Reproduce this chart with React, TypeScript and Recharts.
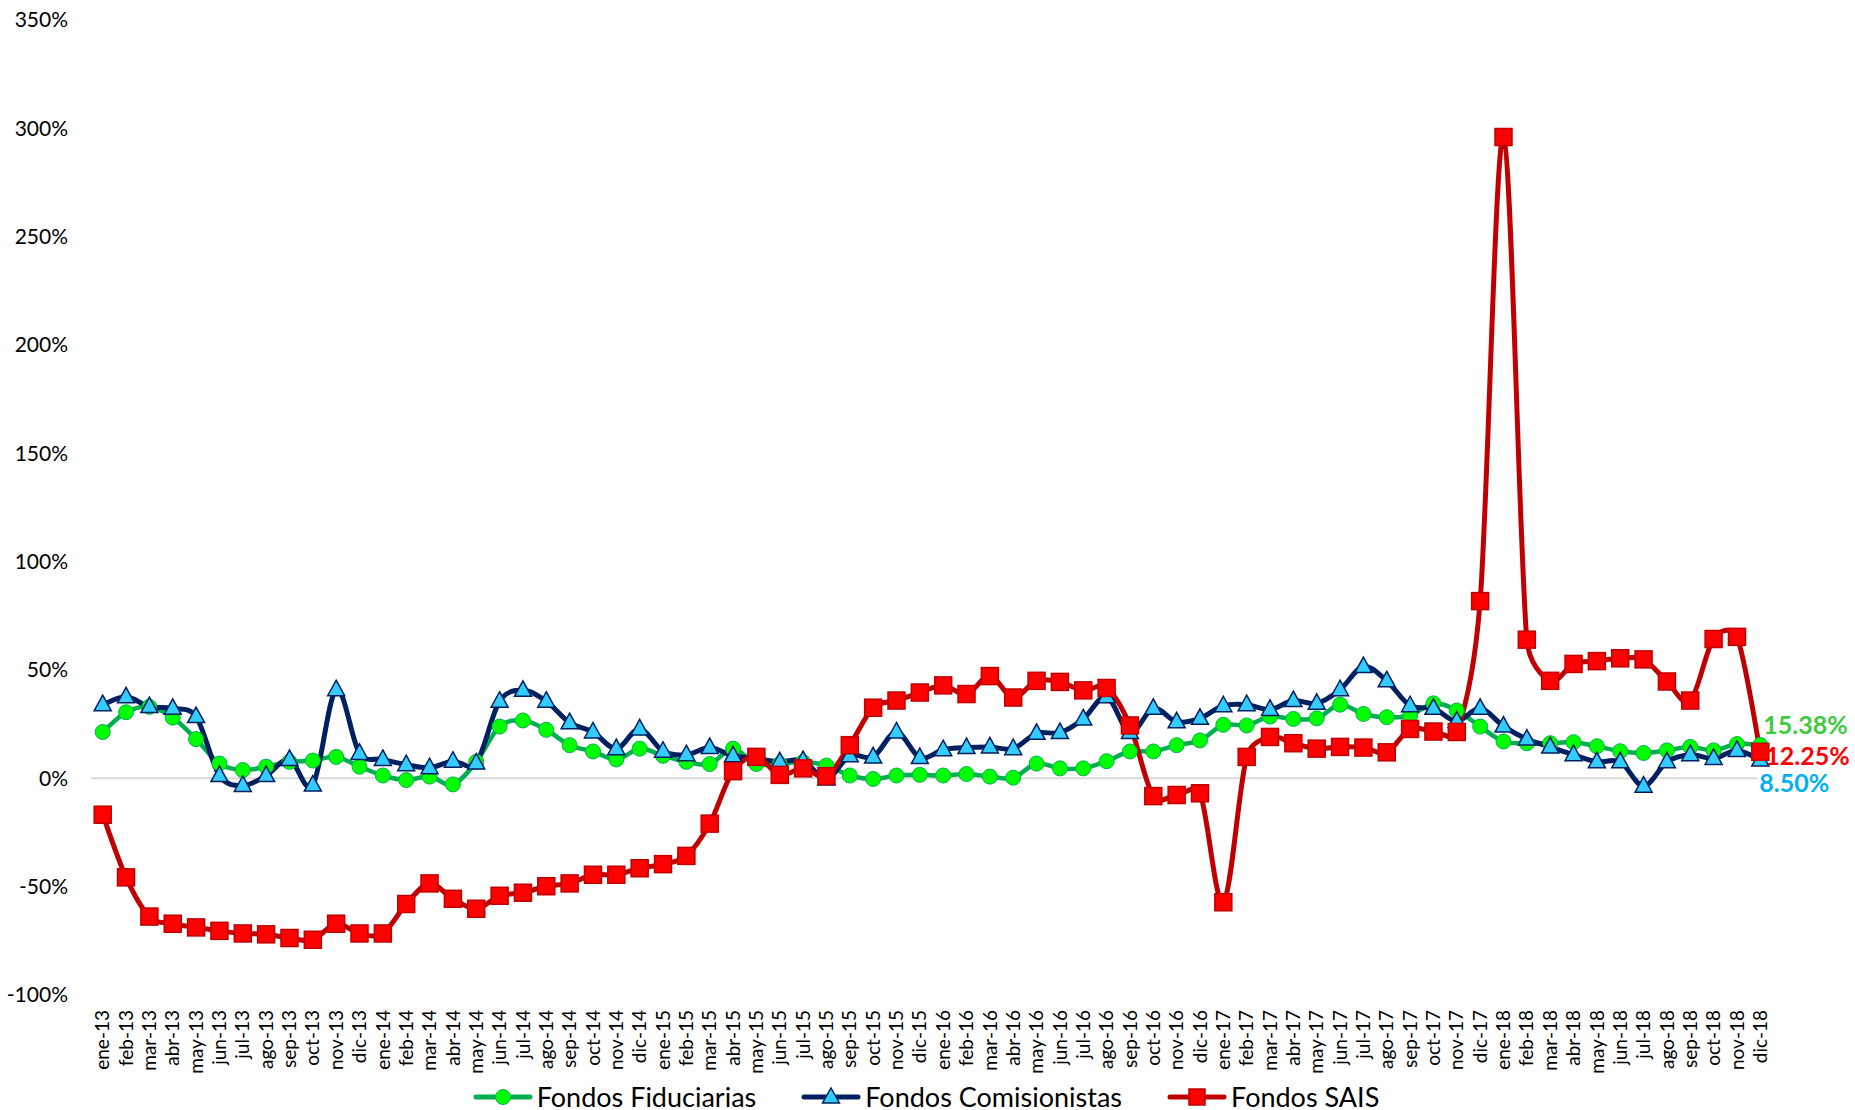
import React from "react";
import { LineChart, Line, XAxis, YAxis, ReferenceLine, Legend, LabelList } from "recharts";

const monthNames = ["ene", "feb", "mar", "abr", "may", "jun", "jul", "ago", "sep", "oct", "nov", "dic"];
const years = ["13", "14", "15", "16", "17", "18"];
const months = years.flatMap((y) => monthNames.map((m) => `${m}-${y}`));

// variación anual (%)
const fiduciarias = [
  21.4, 30.5, 33, 28, 18.1, 6.8, 3.8, 5.4, 7.6, 8.2, 9.9, 5.4,
  1.3, -0.8, 0.8, -2.8, 7.6, 23.9, 26.7, 22.4, 15.3, 12.4, 8.7, 13.7,
  10.4, 7.6, 6.6, 13.7, 6.6, 6.6, 7.5, 5.9, 1.3, -0.3, 1.3, 1.6,
  1.3, 2, 0.8, 0.3, 6.8, 4.6, 4.6, 7.9, 12.4, 12.4, 15.3, 17.5,
  24.7, 24.4, 28.5, 27.4, 27.7, 34, 29.7, 28.2, 29, 34.6, 31.3, 23.9,
  17, 16.2, 16.2, 16.7, 14.8, 12.5, 11.7, 12.9, 14.5, 12.9, 15.8, 15.38,
];

const comisionistas = [
  34, 37.6, 33.1, 32.3, 28.5, 1.3, -3.3, 1.3, 8.7, -3.1, 40.9, 11.5,
  8.7, 6.3, 4.9, 7.9, 7.1, 35.6, 40.6, 35.6, 25.7, 21.4, 13.7, 22.8,
  12.5, 10.9, 14.2, 10.4, 9.2, 7.6, 8.2, -0.3, 10.4, 9.9, 21.4, 9.6,
  13.2, 14.2, 14.5, 13.7, 20.8, 21.1, 27.4, 37.6, 21.1, 32.3, 26.1, 27.7,
  33.5, 34, 31.8, 35.9, 34.6, 40.9, 51.6, 45, 33.5, 32.3, 26.4, 32.3,
  24.1, 18.1, 14.5, 10.9, 7.6, 7.6, -3.6, 7.6, 10.9, 9.2, 12.9, 8.5,
];

const sais = [
  -16.8, -45.7, -63.8, -67.1, -68.8, -70.4, -71.6, -72, -73.7, -74.5, -67.1, -71.6,
  -71.6, -58, -48.5, -55.6, -60.2, -54.2, -52.8, -49.8, -48.5, -44.5, -44.5, -41.5,
  -39.6, -35.8, -20.9, 3.3, 9.9, 1.6, 4.6, 1, 15.3, 32.6, 35.9, 39.6,
  42.9, 38.9, 47.2, 37.3, 45, 44.5, 40.6, 41.7, 24.4, -8.2, -7.7, -6.9,
  -57.2, 9.9, 19.1, 16.2, 13.7, 14.5, 14.2, 12, 22.8, 21.6, 21.4, 81.8,
  296, 64, 45, 52.8, 54.1, 55.4, 54.9, 44.7, 35.9, 64.3, 65.3, 12.25,
];

const yTicks = [-100, -50, 0, 50, 100, 150, 200, 250, 300, 350];

const data = months.map((m, i) => ({
  month: m,
  fid: fiduciarias[i],
  com: comisionistas[i],
  sais: sais[i],
}));

const last = months.length - 1;

// Excel-style smoothed line: Catmull-Rom, with the handles clamped to
// half of the segment so short segments next to big jumps don't overshoot
function smoothCurve(context: any) {
  let pts: number[][] = [];
  const handle = (a: number[], b: number[], len: number) => {
    let hx = (b[0] - a[0]) / 6;
    let hy = (b[1] - a[1]) / 6;
    const h = Math.hypot(hx, hy);
    const max = len * 0.5;
    if (h > max && h > 0) {
      hx = (hx * max) / h;
      hy = (hy * max) / h;
    }
    return [hx, hy];
  };
  return {
    areaStart() {},
    areaEnd() {},
    lineStart() {
      pts = [];
    },
    point(x: number, y: number) {
      pts.push([+x, +y]);
    },
    lineEnd() {
      const n = pts.length;
      if (!n) return;
      context.moveTo(pts[0][0], pts[0][1]);
      for (let i = 0; i < n - 1; i++) {
        const p0 = pts[i - 1] || pts[i];
        const p1 = pts[i];
        const p2 = pts[i + 1];
        const p3 = pts[i + 2] || p2;
        const len = Math.hypot(p2[0] - p1[0], p2[1] - p1[1]);
        const [ax, ay] = handle(p0, p2, len);
        const [bx, by] = handle(p1, p3, len);
        context.bezierCurveTo(p1[0] + ax, p1[1] + ay, p2[0] - bx, p2[1] - by, p2[0], p2[1]);
      }
    },
  };
}

const circleDot = (p: any) => (
  <circle key={`c-${p.index}`} cx={p.cx} cy={p.cy} r={7.5} fill="#00FF00" stroke="#00B050" strokeWidth={1} />
);

const triangleDot = (p: any) => (
  <polygon
    key={`t-${p.index}`}
    points={`${p.cx},${p.cy - 9.5} ${p.cx + 8.5},${p.cy + 6} ${p.cx - 8.5},${p.cy + 6}`}
    fill="#33CCFF"
    stroke="#002060"
    strokeWidth={1.5}
  />
);

const squareDot = (p: any) => (
  <rect key={`s-${p.index}`} x={p.cx - 8.5} y={p.cy - 8.5} width={17} height={17} fill="#FF0000" stroke="#C00000" strokeWidth={1.5} />
);

const endLabel = (color: string, dx: number, dy: number, bg = false) => (props: any) => {
  const { x, y, index, value } = props;
  if (index !== last) return null;
  return (
    <g key={`l-${color}`}>
      {bg && <rect x={x + dx - 2} y={y + dy - 14} width={74} height={28} fill="#fff" />}
      <text x={x + dx} y={y + dy} dy="0.36em" fill={color} fontSize={25} fontWeight={700}>
        {Number(value).toFixed(2)}%
      </text>
    </g>
  );
};

const MonthTick = (props: any) => {
  const { x, y, payload } = props;
  return (
    <g transform={`translate(${x},${y})`}>
      <text transform="rotate(-90)" textAnchor="end" dy="0.35em" fontSize={19} fill="#000">
        {payload.value}
      </text>
    </g>
  );
};

const legendItems = [
  { label: "Fondos Fiduciarias", line: "#00B050", marker: "circle" },
  { label: "Fondos Comisionistas", line: "#002060", marker: "triangle" },
  { label: "Fondos SAIS", line: "#C00000", marker: "square" },
];

const renderLegend = () => (
  <div style={{ display: "flex", justifyContent: "center", alignItems: "center", gap: 45 }}>
    {legendItems.map((it) => (
      <div key={it.label} style={{ display: "flex", alignItems: "center", gap: 4 }}>
        <svg width={60} height={24}>
          <line x1={3} y1={12} x2={57} y2={12} stroke={it.line} strokeWidth={5} strokeLinecap="round" />
          {it.marker === "circle" && <circle cx={30} cy={12} r={7.5} fill="#00FF00" stroke="#00B050" strokeWidth={1} />}
          {it.marker === "triangle" && (
            <polygon points="30,3 38.5,18 21.5,18" fill="#33CCFF" stroke="#002060" strokeWidth={1.5} />
          )}
          {it.marker === "square" && (
            <rect x={22} y={4} width={16} height={16} fill="#FF0000" stroke="#C00000" strokeWidth={1.5} />
          )}
        </svg>
        <span style={{ fontSize: 27, color: "#000", lineHeight: "30px" }}>{it.label}</span>
      </div>
    ))}
  </div>
);

export default function App() {
  return (
    <div
      style={{
        position: "absolute",
        left: 0,
        top: 0,
        width: 1855,
        height: 1110,
        background: "#fff",
        fontFamily: "Lato, Carlito, Calibri, sans-serif",
      }}
    >
      <LineChart width={1855} height={1110} data={data} margin={{ top: 20, right: 83, bottom: 0, left: 11 }}>
        <XAxis
          dataKey="month"
          interval={0}
          axisLine={false}
          tickLine={false}
          tickSize={6}
          tickMargin={9}
          height={115}
          padding={{ left: 11.7, right: 11.7 }}
          tick={<MonthTick />}
        />
        <YAxis
          type="number"
          domain={[-100, 350]}
          ticks={yTicks}
          interval={0}
          axisLine={false}
          tickLine={false}
          tickSize={8}
          tickMargin={15}
          width={80}
          tick={{ fill: "#000", fontSize: 21 }}
          tickFormatter={(v: number) => `${v}%`}
        />
        <ReferenceLine y={0} stroke="#d9d9d9" strokeWidth={2} />
        <Line
          dataKey="fid"
          name="Fondos Fiduciarias"
          type={smoothCurve as any}
          stroke="#00B050"
          strokeWidth={4.5}
          dot={circleDot}
          activeDot={false}
          isAnimationActive={false}
        >
          <LabelList dataKey="fid" content={endLabel("#3DCB3D", 3, -20)} />
        </Line>
        <Line
          dataKey="com"
          name="Fondos Comisionistas"
          type={smoothCurve as any}
          stroke="#002060"
          strokeWidth={5}
          dot={triangleDot}
          activeDot={false}
          isAnimationActive={false}
        >
          <LabelList dataKey="com" content={endLabel("#00B0F0", -1, 23, true)} />
        </Line>
        <Line
          dataKey="sais"
          name="Fondos SAIS"
          type={smoothCurve as any}
          stroke="#C00000"
          strokeWidth={5}
          dot={squareDot}
          activeDot={false}
          isAnimationActive={false}
        >
          <LabelList dataKey="sais" content={endLabel("#FF0000", 5, 4)} />
        </Line>
        <Legend
          layout="horizontal"
          verticalAlign="middle"
          align="center"
          content={renderLegend}
          wrapperStyle={{ position: "absolute", top: 1082, left: 0, width: 1852 }}
        />
      </LineChart>
    </div>
  );
}
